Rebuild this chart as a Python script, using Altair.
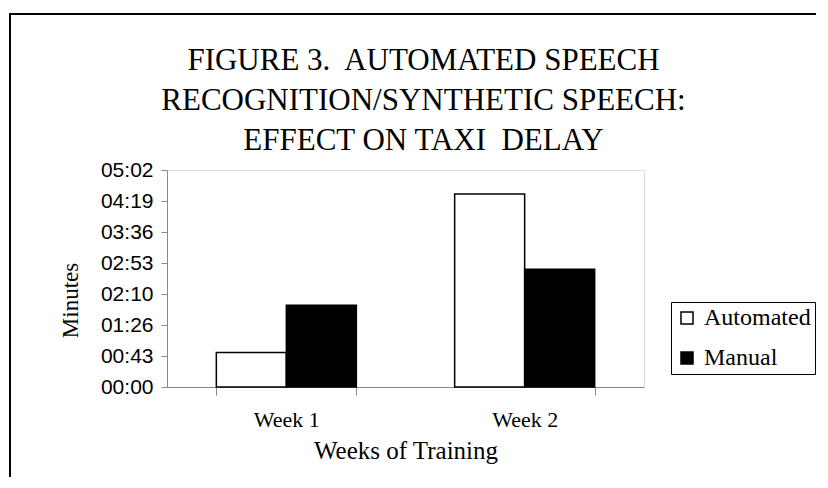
import altair as alt
import pandas as pd

weeks = ["Week 1", "Week 1", "Week 2", "Week 2"]
methods = ["Automated", "Manual", "Automated", "Manual"]
seconds = [48, 114, 269, 164]
tick_values = [0, 43.2, 86.4, 129.6, 172.8, 216.0, 259.2, 302.4]
title_lines = ["FIGURE 3.\u00a0 AUTOMATED SPEECH", "RECOGNITION/SYNTHETIC SPEECH:", "EFFECT ON TAXI\u00a0 DELAY"]

df = pd.DataFrame({"week": weeks, "method": methods, "seconds": seconds})

SERIF = "Liberation Serif"
SANS = "Liberation Sans"

label_expr = ("pad(floor(round(datum.value)/60), 2, '0', 'left') + ':' + "
              "pad(round(datum.value) % 60, 2, '0', 'left')")

bars = alt.Chart(df).mark_bar(stroke="black", strokeWidth=1.5).encode(
    x=alt.X("week:N", title="Weeks of Training",
            scale=alt.Scale(paddingInner=0.4125, paddingOuter=0.207),
            axis=alt.Axis(labelAngle=0, tickBand="extent", tickSize=8,
                          labelPadding=14, titlePadding=8,
                          labelFont=SERIF, labelFontSize=22,
                          titleFont=SERIF, titleFontSize=25, titleFontWeight="normal")),
    xOffset=alt.XOffset("method:N"),
    y=alt.Y("seconds:Q", title="Minutes",
            scale=alt.Scale(domain=[0, 302.4], nice=False, zero=True),
            axis=alt.Axis(values=tick_values, labelExpr=label_expr, tickSize=6,
                          labelPadding=8, titlePadding=18, titleY=130, grid=False,
                          labelFont=SANS, labelFontSize=21,
                          titleFont=SERIF, titleFontSize=23, titleFontWeight="normal")),
    fill=alt.Fill("method:N",
                  scale=alt.Scale(domain=["Automated", "Manual"], range=["white", "black"]),
                  legend=alt.Legend(title=None, orient="none", legendX=504, legendY=132,
                                    strokeColor="black", padding=4, fillColor="white",
                                    symbolType="square", symbolSize=144,
                                    symbolStrokeColor="black", symbolStrokeWidth=1.5,
                                    labelFont=SERIF, labelFontSize=24, labelOffset=5,
                                    rowPadding=16, labelColor="black")),
)

frame = alt.Chart(pd.DataFrame({"k": [0]})).mark_rect(
    fill=None, stroke="black", strokeWidth=2
).encode(x=alt.value(-157), x2=alt.value(700), y=alt.value(-156), y2=alt.value(400))

chart = alt.layer(frame, bars).properties(
    width=477, height=217,
    title=alt.TitleParams(title_lines, font=SERIF, fontSize=31, fontWeight="normal",
                          lineHeight=40, anchor="middle", frame="group", dx=18,
                          offset=0, dy=144, color="black"),
    autosize=alt.AutoSizeParams(type="none"),
    padding={"left": 159, "top": 162, "right": 172, "bottom": 90},
).configure_view(stroke="black", strokeWidth=1.5).configure_axis(
    domainColor="black", domainWidth=1.5, tickColor="black", tickWidth=1.5,
    labelColor="black", titleColor="black"
).configure(background="white")

chart.save("out.html", embed_options={"renderer": "svg", "actions": False})
